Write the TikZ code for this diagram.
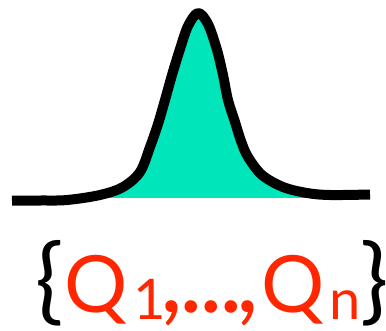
\documentclass[tikz,border=0pt]{standalone}
\usepackage{fontspec}
\setmainfont{Lato}
\definecolor{qred}{RGB}{255,38,0}
\definecolor{peakfill}{RGB}{0,229,185}
\tikzset{
  curveline/.style={line width=10pt, line join=round, line cap=butt, black},
  setlabel/.style={anchor=base west, inner sep=0pt, font=\fontsize{79}{85}\selectfont}
}
\newcommand{\subtxt}[1]{\raisebox{-7pt}{\fontsize{56}{60}\selectfont #1}}
\newcommand{\brc}[1]{{\fontsize{94}{100}\selectfont #1}}
\newcommand{\pnc}[1]{{\fontsize{100}{100}\selectfont #1}}
\newcommand{\ctr}[1]{\makebox[0pt][c]{#1}}
\begin{document}
\begin{tikzpicture}[x=1pt,y=-1pt]
\useasboundingbox (0,0) rectangle (386,330);
\def\peakpath{plot[smooth, tension=0.55] coordinates {(12,200.7) (40,200.5) (67,200) (100,195) (123,187) (140,172) (150,147) (158,124) (165,100) (172,75) (180,49) (188,26) (198,13) (208,24) (217,50) (223,75) (228,100) (235,122) (241,141) (248,157) (262,175) (283,187) (307,193) (330,195) (370,194.5)}}
\begin{scope}
  \clip (0,0) rectangle (386,197.3);
  \fill[peakfill] \peakpath -- (370,330) -- (12,330) -- cycle;
\end{scope}
\draw[curveline] \peakpath;
\node[setlabel] (set) at (49.5,312) {\ctr{\brc{\{}}\kern46pt\textcolor{qred}{\ctr{Q}\kern54.5pt\ctr{\subtxt{1}}\kern22pt\ctr{\pnc{,}}\kern19.5pt\ctr{\pnc{.}}\kern20pt\ctr{\pnc{.}}\kern20pt\ctr{\pnc{.}}\kern16pt\ctr{\pnc{,}}\kern45pt\ctr{Q}\kern52pt\ctr{\subtxt{n}}}\kern29.5pt\ctr{\brc{\}}}};
\end{tikzpicture}
\end{document}
